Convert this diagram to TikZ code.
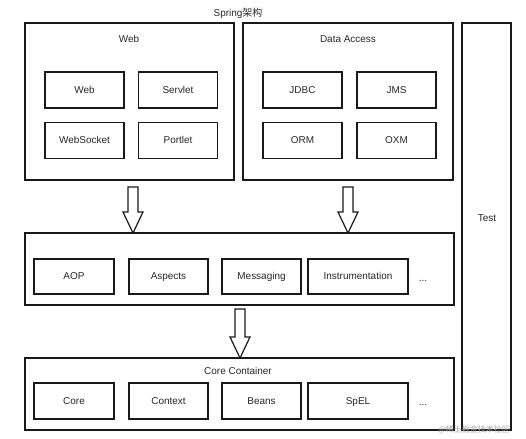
\documentclass[tikz,border=0pt]{standalone}
\usepackage{fontspec}
\setmainfont{Liberation Sans}
\newfontfamily\cjk{Noto Sans CJK SC}
\usetikzlibrary{calc}
\begin{document}
\begin{tikzpicture}[x=1bp,y=-1bp,
  box/.style={draw=black!90, line width=1.4bp, inner sep=0pt, outer sep=0pt},
  lbl/.style={font=\fontsize{10}{12}\selectfont, text=black!85, inner sep=0pt, text height=7.4pt, text depth=0.4pt},
  blockarrow/.style={draw=black!90, line width=1.2bp, fill=white, line join=miter}
]
\useasboundingbox (0,0) rectangle (526,439);
% title
\node[lbl] (title) at (238,13) {Spring{\cjk 架构}};
% outer boxes
\node[box, minimum width=209bp, minimum height=157bp] (web) at (129.5,101.5) {};
\node[box, minimum width=210bp, minimum height=157bp] (da) at (348,101.5) {};
\node[box, minimum width=49bp, minimum height=407bp] (test) at (486.5,226.5) {};
\node[box, minimum width=429bp, minimum height=72bp] (mid) at (239.5,269) {};
\node[box, minimum width=429bp, minimum height=72bp] (core) at (239.5,394) {};
% outer labels
\node[lbl] (webt) at (129,39) {Web};
\node[lbl] (dat) at (348,39) {Data Access};
\node[lbl] (testt) at (487,218) {Test};
\node[lbl] (coret) at (238,371) {Core Container};
% web inner
\node[box, lbl, minimum width=79bp, minimum height=36bp] (w1) at (84.5,90) {Web};
\node[box, lbl, minimum width=79bp, minimum height=36bp] (w2) at (178,90) {Servlet};
\node[box, lbl, minimum width=79bp, minimum height=36bp] (w3) at (84.5,140.5) {WebSocket};
\node[box, lbl, minimum width=79bp, minimum height=36bp] (w4) at (178,140.5) {Portlet};
% data access inner
\node[box, lbl, minimum width=79bp, minimum height=36bp] (d1) at (302.5,90) {JDBC};
\node[box, lbl, minimum width=79bp, minimum height=36bp] (d2) at (396.5,90) {JMS};
\node[box, lbl, minimum width=79bp, minimum height=36bp] (d3) at (302.5,140.5) {ORM};
\node[box, lbl, minimum width=79bp, minimum height=36bp] (d4) at (396.5,140.5) {OXM};
% middle inner
\node[box, lbl, minimum width=80bp, minimum height=35bp] (m1) at (74,276.5) {AOP};
\node[box, lbl, minimum width=79bp, minimum height=35bp] (m2) at (168.5,276.5) {Aspects};
\node[box, lbl, minimum width=79bp, minimum height=35bp] (m3) at (261.5,276.5) {Messaging};
\node[box, lbl, minimum width=100bp, minimum height=35bp] (m4) at (358,276.5) {Instrumentation};
\node[lbl] (mdots) at (423,278) {...};
% core inner
\node[box, lbl, minimum width=80bp, minimum height=36bp] (c1) at (74,401) {Core};
\node[box, lbl, minimum width=79bp, minimum height=36bp] (c2) at (168.5,401) {Context};
\node[box, lbl, minimum width=79bp, minimum height=36bp] (c3) at (261.5,401) {Beans};
\node[box, lbl, minimum width=100bp, minimum height=36bp] (c4) at (358,401) {SpEL};
\node[lbl] (cdots) at (423,402) {...};
% block arrows
\coordinate (a1s) at ($(web.south)+(3.5,7)$);
\coordinate (a1e) at (a1s |- mid.north);
\coordinate (a2s) at ($(da.south)+(0,7)$);
\coordinate (a2e) at (a2s |- mid.north);
\coordinate (a3s) at ($(mid.south)+(0.5,4)$);
\coordinate (a3e) at (a3s |- core.north);
\foreach \s/\e in {a1s/a1e, a2s/a2e, a3s/a3e}{
  \draw[blockarrow] ($(\s)+(-5,0)$) -- ($(\s)+(5,0)$) -- ($(\e)+(5,-21)$) -- ($(\e)+(10,-21)$)
    -- (\e) -- ($(\e)+(-10,-21)$) -- ($(\e)+(-5,-21)$) -- cycle;
}
% watermark
\node[font=\cjk\fontsize{8}{9}\selectfont, text=black!35, inner sep=0pt] (wm) at (474,430) {@稀土掘金技术社区};
\end{tikzpicture}
\end{document}
